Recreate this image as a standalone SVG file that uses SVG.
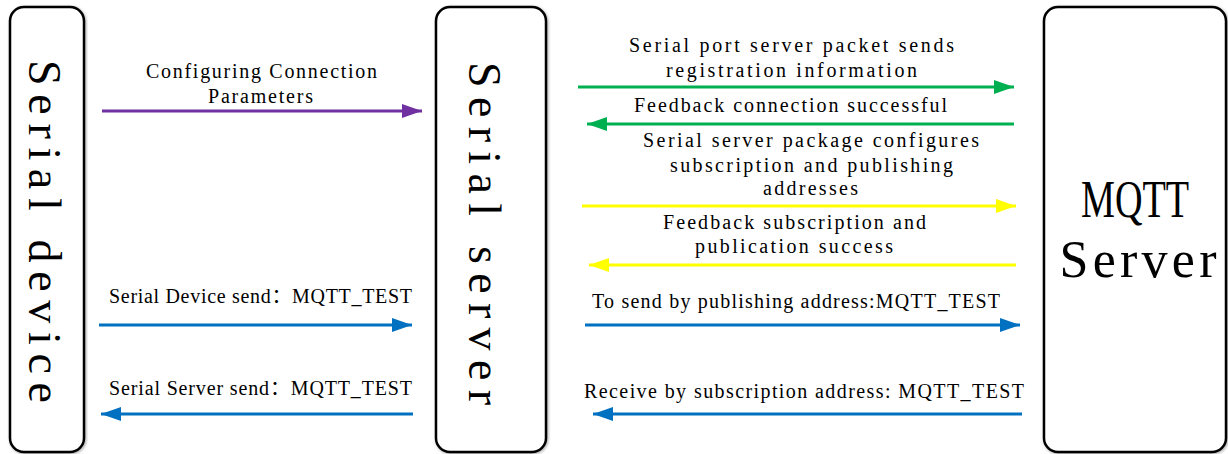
<svg xmlns="http://www.w3.org/2000/svg" width="1228" height="454" viewBox="0 0 1228 454">
<style>
.box{fill:#ffffff;stroke:#000000;stroke-width:2.5}
.big{font-family:"Liberation Serif","DejaVu Serif",serif;fill:#000000}
.lbl{font-family:"Liberation Serif","Noto Sans CJK SC",serif;font-size:20px;fill:#000000;text-anchor:middle}
.c{stroke-width:3;fill:none}
</style>
<defs>
<filter id="sh" x="-5%" y="-5%" width="110%" height="110%">
<feGaussianBlur in="SourceAlpha" stdDeviation="1.5"/>
<feOffset dx="1" dy="1"/>
<feComponentTransfer><feFuncA type="linear" slope="0.35"/></feComponentTransfer>
<feMerge><feMergeNode/><feMergeNode in="SourceGraphic"/></feMerge>
</filter>
<marker id="mP" markerUnits="userSpaceOnUse" markerWidth="20" markerHeight="14" refX="20" refY="7" orient="auto"><path d="M0,0 L20,7 L0,14 Z" fill="#7030A0"/></marker>
<marker id="mG" markerUnits="userSpaceOnUse" markerWidth="20" markerHeight="14" refX="20" refY="7" orient="auto"><path d="M0,0 L20,7 L0,14 Z" fill="#00B050"/></marker>
<marker id="mY" markerUnits="userSpaceOnUse" markerWidth="20" markerHeight="14" refX="20" refY="7" orient="auto"><path d="M0,0 L20,7 L0,14 Z" fill="#FFFF00"/></marker>
<marker id="mB" markerUnits="userSpaceOnUse" markerWidth="20" markerHeight="14" refX="20" refY="7" orient="auto"><path d="M0,0 L20,7 L0,14 Z" fill="#0070C0"/></marker>
</defs>
<rect width="1228" height="454" fill="#ffffff"/>
<g id="serial-device">
<rect class="box" x="10" y="7" width="74" height="445" rx="14" filter="url(#sh)"/>
<text class="big" font-size="46" text-anchor="middle" transform="translate(29,231.5) rotate(90)" textLength="343" lengthAdjust="spacing">Serial device</text>
</g>
<g id="serial-server">
<rect class="box" x="436" y="7" width="110" height="445" rx="14" filter="url(#sh)"/>
<text class="big" font-size="46" text-anchor="middle" transform="translate(469,233.5) rotate(90)" textLength="343" lengthAdjust="spacing">Serial server</text>
</g>
<g id="mqtt-server">
<rect class="box" x="1044" y="7" width="182" height="445" rx="14" filter="url(#sh)"/>
<text class="big" font-size="52" text-anchor="middle" x="1135" y="217" textLength="108" lengthAdjust="spacingAndGlyphs">MQTT</text>
<text class="big" font-size="52" text-anchor="middle" x="1138" y="277" textLength="157" lengthAdjust="spacing">Server</text>
</g>
<g id="connectors">
<line class="c" x1="102" y1="111" x2="422" y2="111" stroke="#7030A0" marker-end="url(#mP)"/>
<line class="c" x1="578" y1="87" x2="1014" y2="87" stroke="#00B050" marker-end="url(#mG)"/>
<line class="c" x1="1014" y1="124" x2="587" y2="124" stroke="#00B050" marker-end="url(#mG)"/>
<line class="c" x1="582" y1="206" x2="1016" y2="206" stroke="#FFFF00" marker-end="url(#mY)"/>
<line class="c" x1="1016" y1="265" x2="589" y2="265" stroke="#FFFF00" marker-end="url(#mY)"/>
<line class="c" x1="585" y1="325" x2="1020" y2="325" stroke="#0070C0" marker-end="url(#mB)"/>
<line class="c" x1="1022" y1="414" x2="593" y2="414" stroke="#0070C0" marker-end="url(#mB)"/>
<line class="c" x1="99" y1="325" x2="412" y2="325" stroke="#0070C0" marker-end="url(#mB)"/>
<line class="c" x1="413" y1="414" x2="101" y2="414" stroke="#0070C0" marker-end="url(#mB)"/>
</g>
<g id="labels">
<text class="lbl" x="261.5" y="78" textLength="231">Configuring Connection</text>
<text class="lbl" x="260.5" y="103" textLength="105">Parameters</text>
<text class="lbl" x="791.5" y="52" textLength="325">Serial port server packet sends</text>
<text class="lbl" x="791.5" y="77" textLength="251">registration information</text>
<text class="lbl" x="790.5" y="112" textLength="313">Feedback connection successful</text>
<text class="lbl" x="811" y="147" textLength="336">Serial server package configures</text>
<text class="lbl" x="811.5" y="172" textLength="283">subscription and publishing</text>
<text class="lbl" x="810.5" y="195" textLength="95">addresses</text>
<text class="lbl" x="794.5" y="229" textLength="263">Feedback subscription and</text>
<text class="lbl" x="794" y="253" textLength="198">publication success</text>
<text class="lbl" x="796" y="308" textLength="408">To send by publishing address:MQTT_TEST</text>
<text class="lbl" x="804" y="398" textLength="440">Receive by subscription address: MQTT_TEST</text>
<text class="lbl" x="260.5" y="303" textLength="303">Serial Device send：MQTT_TEST</text>
<text class="lbl" x="260.5" y="395" textLength="303">Serial Server send：MQTT_TEST</text>
</g>
</svg>
